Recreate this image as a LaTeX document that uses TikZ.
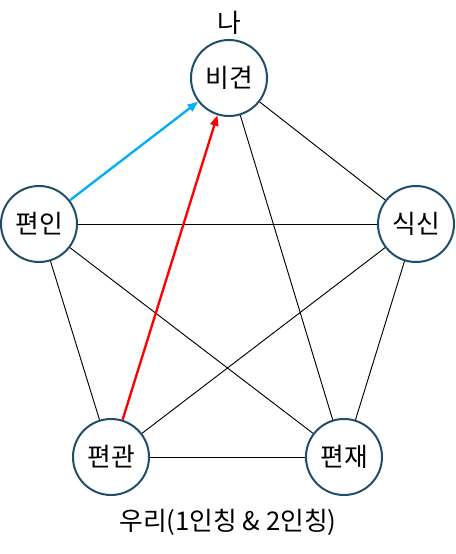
\documentclass[tikz,border=0pt]{standalone}
\usepackage{fontspec}
\newfontfamily\kor{Noto Sans CJK KR}
\usetikzlibrary{arrows.meta,positioning}
\definecolor{ringblue}{HTML}{1F4E66}
\definecolor{skyblue}{HTML}{00B0F0}
\tikzset{
  star/.style={circle, draw=ringblue, line width=1.7pt, fill=white, minimum size=2.28cm, inner sep=0pt},
  link/.style={black, line width=0.8pt},
  flow/.style={line width=2pt, -{Triangle[length=9pt,width=7pt]}}
}

\begin{document}
\begin{tikzpicture}[x=0.03cm, y=-0.03cm, every node/.style={font=\kor\fontsize{22}{26}\selectfont}]
        \useasboundingbox (0,0) rectangle (456,554);
        % Five stars
        \node[star] (bigyeon) at (229,78) {비견};
        \node[star] (pyeonin) at (39,224) {편인};
        \node[star] (siksin) at (416,224) {식신};
        \node[star] (pyeongwan) at (111,457) {편관};
        \node[star] (pyeonjae) at (344,457) {편재};
        % Captions
        \node (na) at (229,23) {나};
        \node (uri) at (228,522) {우리(1인칭 \& 2인칭)};

        % Plain links
        \draw[link] (bigyeon) -- (siksin);
        \draw[link] (bigyeon) -- (pyeonjae);
        \draw[link] (pyeonin) -- (siksin);
        \draw[link] (pyeonin) -- (pyeonjae);
        \draw[link] (pyeonin) -- (pyeongwan);
        \draw[link] (pyeongwan) -- (siksin);
        \draw[link] (pyeongwan) -- (pyeonjae);
        \draw[link] (siksin) -- (pyeonjae);
        % Arrows into the self
        \draw[flow, skyblue] (pyeonin) -- (bigyeon);
        \draw[flow, red] (pyeongwan) -- (bigyeon);
    \end{tikzpicture}
\end{document}
